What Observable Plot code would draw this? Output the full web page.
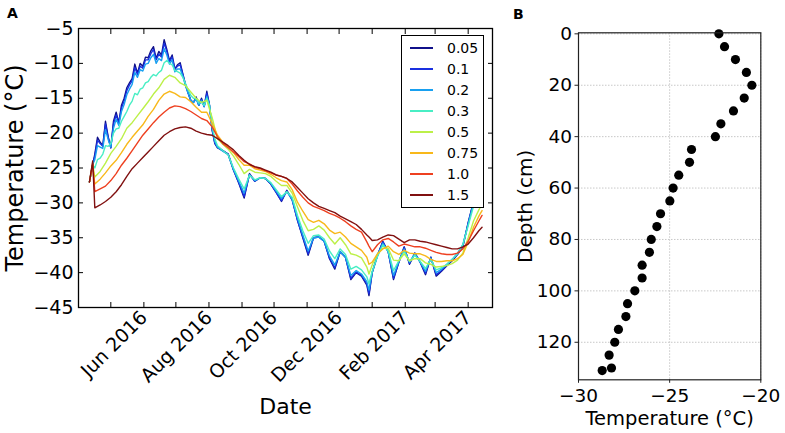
<!DOCTYPE html>
<html>
<head>
<meta charset="utf-8">
<script src="https://cdn.jsdelivr.net/npm/d3@7"></script>
<script src="https://cdn.jsdelivr.net/npm/@observablehq/plot@0.6"></script>
<style>
  html, body { margin: 0; padding: 0; background: #fff; }
  #wrap { position: relative; width: 785px; height: 433px; overflow: hidden; font-family: "DejaVu Sans", sans-serif; }
  #wrap svg { position: absolute; top: 0; }
  .panel { position: absolute; font-weight: bold; font-size: 14px; line-height: 1; color: #000; }
  .legend { position: absolute; left: 401px; top: 35px; width: 83px; height: 173px; box-sizing: border-box; border: 1px solid #000; background: #fff; }
  .legend .row { position: absolute; left: 0; height: 0; }
  .legend .sw { position: absolute; left: 8px; width: 23px; height: 2px; top: -1px; }
  .legend .lb { position: absolute; left: 45px; top: -7px; font-size: 14px; line-height: 14px; color: #000; white-space: nowrap; }
</style>
</head>
<body>
<div id="wrap"></div>
<script>
// ---------- Panel A data: temperature (°C) at several depths (m) ----------
const startDate = "2016-04-11";
// sampling days (since startDate) for the shallow, noisy series (0.05–0.3 m)
const dayOffsetsShallow = [0,3,5,7.5,10,12.5,15,17.5,20,22.5,25,27.5,30,32.5,35,37.5,40,42.5,45,47.5,50,52.5,55,57.5,60,62.5,65,67.5,70,72.5,75,77.5,80,82.5,85,87.5,90,92.5,95,97.5,100,102.5,105,107.5,110,112.5,115,117.5,120,125,130,135,140,145,150,155,160,165,170,175,180,185,190,195,200,205,210,215,220,225,230,235,240,245,250,255,260,262,265,270,275,280,285,290,295,300,305,310,315,320,325,330,335,340,345,350,355,360,365,368];
// sampling days for the deeper, smoother series (0.5–1.5 m)
const dayOffsetsDeep = [0,3,5,10,15,20,25,30,35,40,45,50,55,60,65,70,75,80,85,90,95,100,105,110,115,120,125,130,135,140,145,150,155,160,165,170,175,180,185,190,195,200,205,210,215,220,225,230,235,240,245,250,255,260,262,265,270,275,280,285,290,295,300,305,310,315,320,325,330,335,340,345,350,355,360,365,368];

const depthLabels = ["0.05", "0.1", "0.2", "0.3", "0.5", "0.75", "1.0", "1.5"];
const depthColors = ["#10108a", "#1a30e0", "#18a0f0", "#48eec4", "#bcf048", "#f8b81a", "#ee4020", "#801010"];

const t005 = [
  -27.0, -24.5, -23.0, -20.6, -21.3, -21.8, -18.3, -20.5, -22.1, -18.3,
  -17.0, -18.5, -16.0, -15.0, -13.5, -12.8, -12.2, -10.1, -11.4, -10.0,
  -10.4, -9.1, -9.2, -8.2, -7.6, -9.3, -8.3, -8.8, -6.6, -8.0,
  -9.6, -8.8, -10.8, -10.2, -9.9, -11.5, -13.0, -14.2, -15.3, -15.6,
  -14.8, -16.0, -15.0, -16.2, -14.0, -16.0, -19.6, -21.5, -22.1,
  -22.5, -23.0, -25.3, -27.2, -29.3, -25.8, -26.9, -26.4, -26.5, -27.3,
  -28.5, -29.8, -28.2, -29.5, -32.5, -35.0, -37.5, -35.0, -34.9, -35.5,
  -38.0, -39.5, -37.0, -37.8, -41.0, -40.0, -40.5, -41.8, -43.3, -40.0,
  -37.5, -35.5, -37.0, -41.0, -38.5, -36.3, -38.8, -37.2, -38.5, -40.3,
  -37.8, -40.5, -39.8, -39.0, -38.3, -37.4, -36.3, -32.8, -29.8, -26.5, -25.5
];
const t010 = [
  -27.0, -24.5, -23.3, -21.0, -21.5, -21.9, -18.7, -20.6, -22.1, -18.7,
  -17.4, -18.6, -16.4, -15.4, -13.9, -13.1, -12.5, -10.6, -11.6, -10.4,
  -10.7, -9.5, -9.5, -8.6, -8.0, -9.5, -8.7, -9.1, -7.1, -8.3,
  -9.8, -9.1, -10.9, -10.4, -10.2, -11.6, -13.1, -14.3, -15.4, -15.6,
  -15.0, -16.0, -15.2, -16.2, -14.3, -16.0, -19.5, -21.4, -22.0,
  -22.5, -23.0, -25.3, -27.1, -29.1, -25.9, -26.9, -26.4, -26.5, -27.3,
  -28.5, -29.7, -28.3, -29.6, -32.5, -34.9, -37.3, -35.0, -34.9, -35.5,
  -37.9, -39.3, -37.0, -37.8, -40.8, -39.9, -40.4, -41.6, -43.0, -40.0,
  -37.5, -35.6, -37.0, -40.8, -38.5, -36.4, -38.7, -37.2, -38.5, -40.1,
  -37.8, -40.3, -39.7, -38.9, -38.2, -37.3, -36.2, -32.9, -29.9, -26.8, -25.8
];
const t020 = [
  -27.0, -24.5, -23.8, -21.8, -22.0, -22.2, -19.5, -20.9, -22.0, -19.3,
  -18.0, -18.9, -16.9, -15.9, -14.5, -13.7, -13.0, -11.3, -12.0, -10.9,
  -11.1, -10.1, -10.0, -9.2, -8.7, -10.0, -9.3, -9.6, -7.9, -8.8,
  -10.1, -9.5, -11.2, -10.8, -10.8, -11.8, -13.2, -14.3, -15.3, -15.6,
  -15.1, -16.0, -15.3, -16.2, -14.7, -16.0, -19.3, -21.2, -22.0,
  -22.6, -23.1, -25.2, -26.9, -28.6, -26.0, -26.8, -26.4, -26.5, -27.2,
  -28.3, -29.4, -28.4, -29.5, -32.2, -34.6, -36.9, -35.0, -34.9, -35.5,
  -37.6, -38.9, -37.0, -37.8, -40.4, -39.7, -40.2, -41.3, -42.5, -40.0,
  -37.6, -35.8, -37.0, -40.4, -38.4, -36.6, -38.5, -37.3, -38.5, -39.8,
  -37.9, -40.0, -39.5, -38.8, -38.1, -37.2, -36.0, -33.0, -30.0, -27.2, -26.2
];
const t030 = [
  -27.0, -24.5, -25.0, -23.8, -23.6, -23.0, -21.8, -21.9, -21.5, -20.0,
  -19.4, -19.3, -18.3, -17.6, -16.9, -16.0, -15.4, -14.3, -14.5, -13.7,
  -13.5, -12.8, -12.6, -12.0, -11.6, -11.8, -11.3, -11.0, -9.9, -9.6,
  -10.0, -10.2, -11.0, -11.2, -11.4, -12.0, -12.9, -13.8, -14.6, -15.0,
  -15.1, -15.7, -15.6, -16.0, -15.0, -16.0, -18.9, -20.8, -21.8,
  -22.5, -23.1, -25.0, -26.6, -28.0, -26.0, -26.7, -26.4, -26.5, -27.1,
  -28.1, -29.1, -28.4, -29.2, -31.8, -34.0, -35.8, -34.7, -34.6, -35.2,
  -36.9, -38.0, -36.6, -37.4, -39.5, -39.1, -39.6, -40.6, -41.6, -39.8,
  -37.7, -36.0, -36.9, -39.7, -38.3, -36.9, -38.4, -37.5, -38.4, -39.4,
  -38.1, -39.6, -39.3, -38.8, -38.1, -37.3, -36.0, -33.3, -30.5, -28.0, -27.0
];
const t050 = [
  -27.0, -24.5, -26.3, -25.5, -24.3, -22.9, -21.9, -20.8, -19.3, -18.5,
  -17.5, -16.5, -15.5, -14.4, -13.5, -12.3, -11.7, -12.0, -12.8, -13.2,
  -14.1, -15.0, -15.6, -15.3, -17.8, -20.8, -21.6, -22.3, -23.3, -24.5,
  -25.8, -25.2, -25.6, -25.7, -25.8, -26.2, -26.9, -27.5, -27.5, -28.6,
  -30.6, -32.5, -34.0, -33.8, -33.3, -33.9, -35.0, -35.9, -35.0, -36.0,
  -37.3, -37.5, -37.9, -39.2, -40.2, -38.9, -37.3, -36.5, -36.5, -38.2,
  -38.3, -37.3, -38.3, -38.0, -38.0, -38.6, -38.8, -39.2, -39.1, -39.0,
  -38.7, -38.2, -37.2, -35.0, -32.6, -31.0, -30.2
];
const t075 = [
  -27.0, -24.5, -27.3, -26.6, -25.7, -24.7, -23.9, -22.8, -21.6, -20.6,
  -19.7, -18.8, -17.6, -16.6, -15.3, -14.4, -14.0, -14.3, -14.8, -14.9,
  -15.5, -16.3, -17.0, -17.0, -18.6, -20.3, -21.3, -22.0, -22.8, -23.8,
  -24.6, -24.6, -25.1, -25.3, -25.5, -25.9, -26.4, -26.8, -27.0, -28.1,
  -29.9, -31.2, -32.4, -32.8, -32.5, -33.0, -33.9, -34.4, -34.2, -34.9,
  -35.8, -36.3, -36.8, -37.8, -38.8, -38.5, -37.3, -36.6, -36.2, -37.0,
  -37.4, -36.8, -37.2, -37.3, -37.3, -37.6, -38.1, -38.4, -38.4, -38.3,
  -38.3, -38.0, -37.4, -35.6, -33.5, -31.9, -31.1
];
const t100 = [
  -27.0, -24.3, -28.4, -28.0, -27.6, -26.8, -25.8, -24.6, -23.6, -22.5,
  -21.4, -20.3, -19.4, -18.5, -17.7, -17.0, -16.4, -16.1, -16.2, -16.5,
  -16.9, -17.4, -17.9, -18.2, -19.1, -20.5, -21.5, -22.1, -22.7, -23.4,
  -24.1, -24.4, -24.9, -25.1, -25.4, -25.7, -26.0, -26.2, -26.5, -27.3,
  -28.3, -29.2, -30.0, -30.5, -30.8, -31.1, -31.5, -31.8, -32.2, -32.7,
  -33.3, -33.8, -34.2, -35.6, -36.2, -37.0, -36.0, -35.3, -35.1, -35.6,
  -36.2, -35.9, -36.1, -36.3, -36.3, -36.5, -36.8, -37.1, -37.3, -37.4,
  -37.4, -37.2, -36.6, -35.5, -34.0, -32.6, -31.8
];
const t150 = [
  -27.0, -24.0, -30.7, -30.3, -29.8, -29.2, -28.4, -27.4, -26.2, -25.1,
  -24.3, -23.5, -22.7, -21.9, -21.1, -20.3, -19.8, -19.4, -19.2, -19.1,
  -19.3, -19.7, -20.0, -20.2, -20.3, -20.8, -21.3, -21.8, -22.4, -23.2,
  -23.9, -24.5, -24.8, -25.0, -25.3, -25.6, -26.0, -26.2, -26.5, -27.0,
  -27.8, -28.6, -29.4, -30.0, -30.5, -30.8, -31.1, -31.4, -31.9, -32.3,
  -32.7, -33.1, -33.8, -34.6, -34.9, -35.4, -35.3, -34.9, -34.6, -34.7,
  -35.2, -35.7, -35.3, -35.3, -35.5, -35.6, -35.8, -36.0, -36.2, -36.4,
  -36.6, -36.6, -36.3, -35.9, -35.0, -34.0, -33.5
];
const seriesA = [t005, t010, t020, t030, t050, t075, t100, t150];
const seriesDays = [dayOffsetsShallow, dayOffsetsShallow, dayOffsetsShallow, dayOffsetsShallow, dayOffsetsDeep, dayOffsetsDeep, dayOffsetsDeep, dayOffsetsDeep];

const yTicksA = [-45, -40, -35, -30, -25, -20, -15, -10, -5];
const monthTicks = ["2016-05-01","2016-06-01","2016-07-01","2016-08-01","2016-09-01","2016-10-01","2016-11-01","2016-12-01","2017-01-01","2017-02-01","2017-03-01","2017-04-01"];
const monthLabels = ["2016-06-01","2016-08-01","2016-10-01","2016-12-01","2017-02-01","2017-04-01"];
const xDomainA = ["2016-03-31T17:00:00Z", "2017-04-23T19:00:00Z"];

// ---------- Panel B data: temperature profile ----------
const profileDepth = [0,5,10,15,20,25,30,35,40,45,50,55,60,65,70,75,80,85,90,95,100,105,110,115,120,125,130,131];
const profileTemp = [-22.30,-21.99,-21.39,-20.79,-20.49,-20.91,-21.50,-22.19,-22.49,-23.80,-23.91,-24.50,-24.81,-24.99,-25.50,-25.70,-26.01,-26.11,-26.51,-26.51,-26.91,-27.31,-27.40,-27.81,-28.01,-28.32,-28.19,-28.70];
const xTicksB = [-30, -25, -20];
const yTicksB = [0, 20, 40, 60, 80, 100, 120];

// ---------- build tables ----------
const start = new Date(startDate + "T00:00:00Z");
const rowsA = [];
seriesA.forEach((vals, i) => {
  const days = seriesDays[i];
  vals.forEach((v, j) => rowsA.push({date: new Date(start.getTime() + days[j] * 864e5), temp: v, depth: depthLabels[i]}));
});
const profile = profileDepth.map((d, i) => ({depth: d, temp: profileTemp[i]}));
const parseDay = s => new Date(s + "T00:00:00Z");

const FONT = "DejaVu Sans";
const wrap = document.getElementById("wrap");

// ---------- Panel A ----------
const plotA = Plot.plot({
  width: 505, height: 433,
  marginLeft: 78, marginRight: 13, marginTop: 28, marginBottom: 126,
  style: {fontFamily: FONT, background: "transparent", color: "#000", overflow: "visible"},
  x: {type: "utc", domain: xDomainA.map(s => new Date(s))},
  y: {domain: [-45, -5]},
  color: {type: "ordinal", domain: depthLabels, range: depthColors},
  marks: [
    Plot.line(rowsA, {x: "date", y: "temp", z: "depth", stroke: "depth", strokeWidth: 1.4}),
    Plot.frame({stroke: "#000", strokeWidth: 1.3}),
    Plot.axisY({ticks: yTicksA, anchor: "left", tickSize: -5, tickPadding: 10, fontSize: 19, label: null}),
    Plot.axisY({ticks: yTicksA, anchor: "right", tickSize: -5, tickFormat: () => "", label: null}),
    Plot.axisX({ticks: monthTicks.map(parseDay), anchor: "bottom", tickSize: -5, tickFormat: () => "", label: null}),
    Plot.axisX({ticks: monthTicks.map(parseDay), anchor: "top", tickSize: -5, tickFormat: () => "", label: null}),
    Plot.axisX({ticks: monthLabels.map(parseDay), anchor: "bottom", tickSize: 0, tickPadding: 7, tickRotate: -45, tickFormat: d3.utcFormat("%b %Y"), fontSize: 19, label: null}),
    Plot.text(["Temperature (°C)"], {frameAnchor: "left", dx: -63, rotate: -90, fontSize: 24, textAnchor: "middle", lineAnchor: "middle"}),
    Plot.text(["Date"], {frameAnchor: "bottom", dy: 99, fontSize: 22, textAnchor: "middle", lineAnchor: "middle"})
  ]
});
plotA.style.left = "0px";
wrap.appendChild(plotA);

// ---------- Panel B ----------
const plotB = Plot.plot({
  width: 280, height: 433,
  marginLeft: 73, marginRight: 24.7, marginTop: 32.3, marginBottom: 53.7,
  style: {fontFamily: FONT, background: "transparent", color: "#000", overflow: "visible"},
  x: {domain: [-30, -20]},
  y: {domain: [-0.4, 134.6], reverse: true},
  marks: [
    Plot.gridY({ticks: yTicksB, stroke: "#c8c8c8", strokeOpacity: 1, strokeDasharray: "1.5,1.5"}),
    Plot.gridX({ticks: xTicksB, stroke: "#c8c8c8", strokeOpacity: 1, strokeDasharray: "1.5,1.5"}),
    Plot.dot(profile, {x: "temp", y: "depth", r: 4.6, fill: "#000", stroke: null}),
    Plot.frame({stroke: "#222", strokeWidth: 1.2}),
    Plot.axisY({ticks: yTicksB, anchor: "left", tickSize: 3.5, tickPadding: 3, fontSize: 18.5, label: null, stroke: "#222"}),
    Plot.axisX({ticks: xTicksB, anchor: "bottom", tickSize: 3.5, tickPadding: 6, fontSize: 18.5, label: null, stroke: "#222"}),
    Plot.text(["Temperature (°C)"], {frameAnchor: "bottom", dy: 38.5, fontSize: 19.5, textAnchor: "middle", lineAnchor: "middle"}),
    Plot.text(["Depth (cm)"], {frameAnchor: "left", dx: -53, rotate: -90, fontSize: 20, textAnchor: "middle", lineAnchor: "middle"})
  ]
});
plotB.style.left = "505px";
wrap.appendChild(plotB);

// ---------- panel letters ----------
[["A", 7, 6], ["B", 513, 7]].forEach(([t, x, y]) => {
  const d = document.createElement("div");
  d.className = "panel";
  d.textContent = t;
  d.style.left = x + "px";
  d.style.top = y + "px";
  wrap.appendChild(d);
});

// ---------- legend for panel A ----------
const leg = document.createElement("div");
leg.className = "legend";
depthLabels.forEach((lab, i) => {
  const row = document.createElement("div");
  row.className = "row";
  row.style.top = (11.8 + 21 * i) + "px";
  const sw = document.createElement("div");
  sw.className = "sw";
  sw.style.background = depthColors[i];
  const lb = document.createElement("div");
  lb.className = "lb";
  lb.textContent = lab;
  row.appendChild(sw);
  row.appendChild(lb);
  leg.appendChild(row);
});
wrap.appendChild(leg);
</script>
</body>
</html>
